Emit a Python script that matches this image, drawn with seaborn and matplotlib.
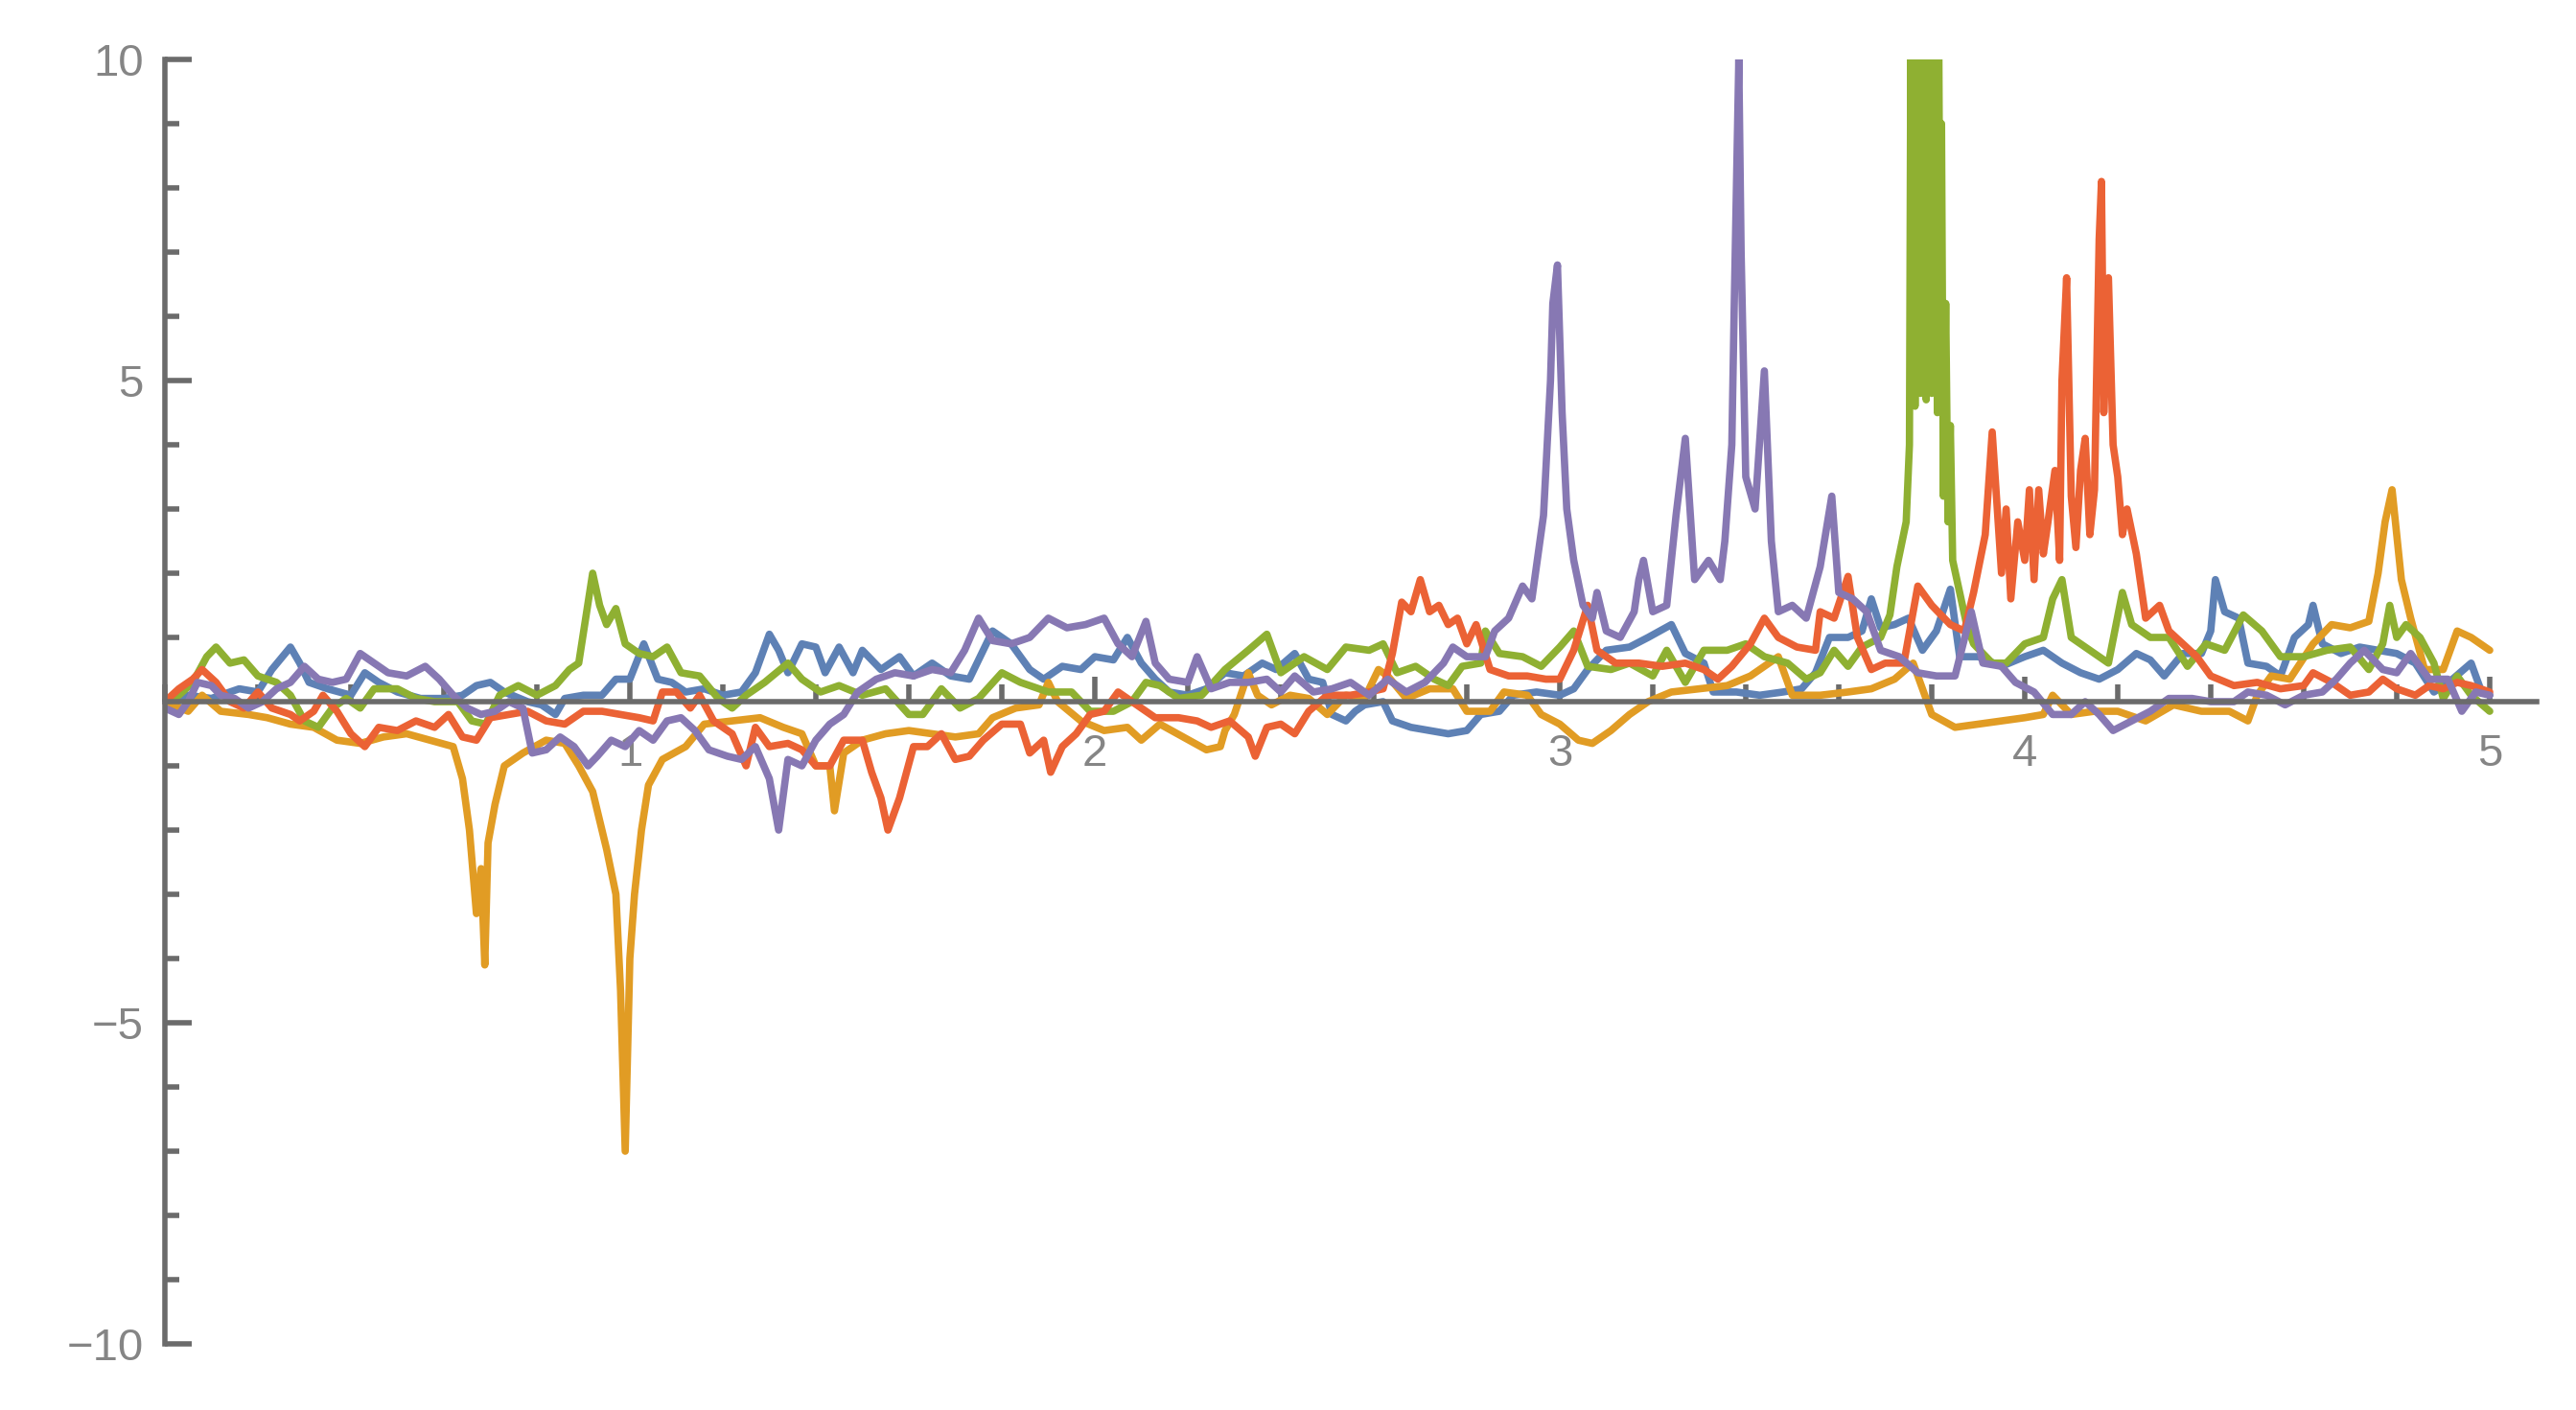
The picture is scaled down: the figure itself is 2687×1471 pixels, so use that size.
import numpy as np
import pandas as pd
import matplotlib
matplotlib.use("Agg")
import matplotlib.pyplot as plt
from matplotlib.ticker import MultipleLocator, FixedLocator
import seaborn as sns

# ---------------- data ----------------
blue_x = [0.00,0.05,0.10,0.16,0.20,0.23,0.27,0.29,0.31,0.35,0.40,0.43,0.46,0.50,0.55,0.60,0.64,0.67,0.70,0.73,
          0.78,0.81,0.84,0.86,0.90,0.94,0.97,1.00,1.03,1.06,1.09,1.12,1.16,1.20,1.24,1.27,1.30,1.32,1.34,1.37,
          1.40,1.42,1.45,1.48,1.50,1.54,1.58,1.61,1.65,1.69,1.73,1.76,1.78,1.82,1.86,1.89,1.93,1.97,2.00,2.04,
          2.07,2.10,2.13,2.16,2.20,2.24,2.28,2.32,2.36,2.39,2.43,2.46,2.49,2.51,2.54,2.56,2.58,2.62,2.64,2.68,
          2.72,2.76,2.80,2.83,2.87,2.90,2.95,3.00,3.03,3.06,3.10,3.15,3.19,3.24,3.27,3.31,3.33,3.38,3.43,3.48,
          3.52,3.55,3.58,3.62,3.65,3.67,3.69,3.72,3.75,3.78,3.81,3.84,3.86,3.90,3.95,4.00,4.04,4.08,4.12,4.16,
          4.20,4.24,4.27,4.30,4.34,4.38,4.40,4.41,4.43,4.46,4.48,4.52,4.55,4.58,4.61,4.62,4.64,4.68,4.72,4.76,
          4.80,4.84,4.88,4.92,4.96,4.98,5.00]
blue_y = [0.0,0.1,0.05,0.2,0.15,0.5,0.85,0.6,0.3,0.2,0.1,0.45,0.3,0.15,0.05,0.05,0.1,0.25,0.3,0.15,
          0.0,-0.05,-0.2,0.05,0.1,0.1,0.35,0.35,0.9,0.35,0.3,0.15,0.2,0.1,0.15,0.45,1.05,0.8,0.45,0.9,
          0.85,0.45,0.85,0.45,0.8,0.5,0.7,0.4,0.6,0.4,0.35,0.8,1.1,0.9,0.5,0.35,0.55,0.5,0.7,0.65,
          1.0,0.6,0.35,0.15,0.1,0.2,0.45,0.4,0.6,0.5,0.75,0.35,0.3,-0.2,-0.3,-0.15,-0.05,0.0,-0.3,-0.4,
          -0.45,-0.5,-0.45,-0.2,-0.15,0.1,0.15,0.1,0.2,0.5,0.8,0.85,1.0,1.2,0.75,0.6,0.15,0.15,0.1,0.15,
          0.2,0.45,1.0,1.0,1.1,1.6,1.15,1.2,1.3,0.8,1.1,1.75,0.7,0.7,0.55,0.7,0.8,0.6,0.45,0.35,
          0.5,0.75,0.65,0.4,0.75,0.75,1.1,1.9,1.4,1.3,0.6,0.55,0.4,1.0,1.2,1.5,0.9,0.75,0.85,0.8,
          0.75,0.6,0.15,0.35,0.6,0.2,0.1]

orange_x = [0.00,0.05,0.08,0.12,0.18,0.22,0.27,0.32,0.37,0.42,0.47,0.52,0.57,0.62,0.64,0.655,0.67,0.68,0.688,0.695,
            0.71,0.73,0.77,0.82,0.86,0.89,0.92,0.95,0.97,0.98,0.99,1.00,1.01,1.025,1.04,1.07,1.12,1.16,1.22,1.28,
            1.33,1.37,1.40,1.43,1.44,1.46,1.50,1.55,1.60,1.65,1.70,1.75,1.78,1.83,1.88,1.90,1.92,1.97,2.02,2.07,
            2.10,2.14,2.19,2.24,2.27,2.28,2.30,2.33,2.35,2.38,2.42,2.46,2.50,2.54,2.58,2.61,2.63,2.67,2.72,2.77,
            2.80,2.85,2.88,2.93,2.96,3.00,3.04,3.07,3.11,3.15,3.19,3.24,3.30,3.36,3.41,3.47,3.50,3.56,3.62,3.67,
            3.72,3.76,3.78,3.80,3.85,3.90,3.95,4.00,4.04,4.06,4.10,4.15,4.20,4.26,4.32,4.38,4.44,4.48,4.50,4.53,
            4.57,4.62,4.66,4.70,4.74,4.76,4.775,4.79,4.81,4.83,4.86,4.90,4.93,4.96,5.00]
orange_y = [0.0,-0.15,0.1,-0.15,-0.2,-0.25,-0.35,-0.4,-0.6,-0.65,-0.55,-0.5,-0.6,-0.7,-1.2,-2.0,-3.3,-2.6,-4.1,-2.2,
            -1.6,-1.0,-0.8,-0.6,-0.65,-1.0,-1.4,-2.3,-3.0,-4.5,-7.0,-4.0,-3.0,-2.0,-1.3,-0.9,-0.7,-0.35,-0.3,-0.25,
            -0.4,-0.5,-1.0,-1.0,-1.7,-0.8,-0.6,-0.5,-0.45,-0.5,-0.55,-0.5,-0.25,-0.1,-0.05,0.3,0.0,-0.3,-0.45,-0.4,
            -0.6,-0.35,-0.55,-0.75,-0.7,-0.45,-0.2,0.45,0.1,-0.05,0.1,0.05,-0.2,0.1,0.05,0.5,0.4,0.05,0.2,0.2,
            -0.15,-0.15,0.15,0.1,-0.2,-0.35,-0.6,-0.65,-0.45,-0.2,0.0,0.15,0.2,0.25,0.4,0.7,0.1,0.1,0.15,0.2,
            0.35,0.6,0.2,-0.2,-0.4,-0.35,-0.3,-0.25,-0.2,0.1,-0.2,-0.15,-0.15,-0.3,-0.05,-0.15,-0.15,-0.3,0.1,0.4,
            0.35,0.9,1.2,1.15,1.25,2.0,2.8,3.3,1.9,1.3,0.5,0.5,1.1,1.0,0.8]

green_x = [0.00,0.03,0.06,0.09,0.11,0.14,0.17,0.20,0.24,0.27,0.30,0.33,0.36,0.39,0.42,0.45,0.50,0.54,0.58,0.63,
           0.66,0.69,0.72,0.76,0.80,0.84,0.87,0.89,0.905,0.92,0.935,0.95,0.97,0.99,1.02,1.05,1.08,1.11,1.15,1.19,
           1.22,1.25,1.29,1.34,1.37,1.41,1.45,1.50,1.55,1.60,1.63,1.67,1.71,1.75,1.80,1.84,1.90,1.95,1.99,2.04,
           2.08,2.11,2.14,2.18,2.23,2.28,2.33,2.37,2.40,2.45,2.50,2.54,2.59,2.62,2.65,2.69,2.73,2.76,2.79,2.83,
           2.84,2.87,2.92,2.96,3.00,3.03,3.06,3.11,3.15,3.20,3.23,3.27,3.31,3.36,3.40,3.44,3.49,3.53,3.56,3.59,
           3.62,3.65,3.69,3.71,3.725,3.745,3.752,3.755,3.758,3.761,3.764,3.767,3.770,3.773,3.776,3.779,3.782,3.785,3.788,3.791,
           3.794,3.797,3.800,3.803,3.806,3.809,3.812,3.815,3.818,3.821,3.825,3.83,3.835,3.84,3.845,3.86,
           3.875,3.89,3.93,3.96,4.00,4.04,4.06,4.08,4.10,4.14,4.18,4.21,4.23,4.27,4.31,4.35,4.39,4.43,4.47,4.51,
           4.55,4.60,4.65,4.70,4.74,4.77,4.785,4.80,4.82,4.85,4.88,4.90,4.93,4.96,5.00]
green_y = [0.0,0.1,0.3,0.7,0.85,0.6,0.65,0.4,0.3,0.1,-0.3,-0.4,-0.1,0.05,-0.1,0.2,0.2,0.05,0.0,0.0,
           -0.3,-0.35,0.1,0.25,0.1,0.25,0.5,0.6,1.3,2.0,1.5,1.2,1.45,0.9,0.75,0.7,0.85,0.45,0.4,0.05,
           -0.1,0.1,0.3,0.6,0.35,0.15,0.25,0.1,0.2,-0.2,-0.2,0.2,-0.1,0.05,0.45,0.3,0.15,0.15,-0.15,-0.15,
           0.0,0.3,0.25,0.05,0.1,0.5,0.8,1.05,0.45,0.7,0.5,0.85,0.8,0.9,0.45,0.55,0.35,0.25,0.55,0.6,
           1.1,0.75,0.7,0.55,0.85,1.1,0.55,0.5,0.6,0.4,0.8,0.3,0.8,0.8,0.9,0.7,0.6,0.35,0.45,0.8,
           0.55,0.85,1.0,1.35,2.1,2.8,4.0,10.5,5.0,10.5,4.6,10.5,6.0,10.5,4.8,10.5,5.5,10.5,4.7,10.5,
           6.0,10.5,4.8,10.5,5.2,10.5,4.5,10.5,6.0,9.0,3.2,6.2,2.8,4.3,2.2,1.7,
           1.2,0.9,0.6,0.6,0.9,1.0,1.6,1.9,1.0,0.8,0.6,1.7,1.2,1.0,1.0,0.55,0.9,0.8,1.35,1.1,
           0.7,0.7,0.8,0.85,0.5,0.9,1.5,1.0,1.2,1.0,0.6,0.05,0.4,0.1,-0.15]

red_x = [0.00,0.03,0.06,0.08,0.11,0.14,0.17,0.20,0.23,0.27,0.29,0.32,0.34,0.37,0.40,0.43,0.46,0.50,0.54,0.58,
         0.61,0.64,0.67,0.70,0.74,0.78,0.82,0.86,0.90,0.94,0.98,1.02,1.05,1.07,1.10,1.13,1.15,1.18,1.22,1.25,
         1.27,1.30,1.34,1.37,1.40,1.43,1.46,1.50,1.52,1.54,1.555,1.58,1.61,1.64,1.67,1.70,1.73,1.76,1.80,1.84,
         1.86,1.89,1.905,1.93,1.96,1.99,2.02,2.05,2.08,2.10,2.13,2.18,2.22,2.25,2.29,2.33,2.345,2.37,2.40,2.43,
         2.46,2.50,2.55,2.59,2.62,2.64,2.66,2.68,2.70,2.72,2.74,2.76,2.78,2.80,2.82,2.85,2.89,2.93,2.97,3.00,
         3.03,3.06,3.08,3.12,3.17,3.22,3.27,3.31,3.34,3.37,3.41,3.44,3.47,3.51,3.55,3.56,3.59,3.62,3.64,3.67,
         3.70,3.74,3.77,3.80,3.84,3.87,3.89,3.915,3.93,3.95,3.96,3.97,3.985,4.00,4.01,4.02,4.03,4.04,4.05,4.065,
         4.075,4.08,4.09,4.10,4.11,4.12,4.13,4.14,4.15,4.16,4.165,4.17,4.18,4.19,4.20,4.21,4.22,4.24,4.26,4.29,
         4.31,4.34,4.37,4.40,4.45,4.50,4.55,4.60,4.62,4.66,4.70,4.74,4.77,4.80,4.84,4.87,4.90,4.93,4.96,5.00]
red_y = [0.0,0.2,0.35,0.5,0.3,0.0,-0.1,0.15,-0.1,-0.2,-0.3,-0.15,0.1,-0.15,-0.5,-0.7,-0.4,-0.45,-0.3,-0.4,
         -0.2,-0.55,-0.6,-0.25,-0.2,-0.15,-0.3,-0.35,-0.15,-0.15,-0.2,-0.25,-0.3,0.15,0.15,-0.1,0.1,-0.3,-0.5,-1.0,
         -0.4,-0.7,-0.65,-0.75,-1.0,-1.0,-0.6,-0.6,-1.1,-1.5,-2.0,-1.5,-0.7,-0.7,-0.5,-0.9,-0.85,-0.6,-0.35,-0.35,
         -0.8,-0.6,-1.1,-0.7,-0.5,-0.2,-0.15,0.15,0.0,-0.1,-0.25,-0.25,-0.3,-0.4,-0.3,-0.55,-0.85,-0.4,-0.35,-0.5,
         -0.15,0.1,0.1,0.15,0.2,0.75,1.55,1.4,1.9,1.4,1.5,1.2,1.3,0.9,1.2,0.5,0.4,0.4,0.35,0.35,
         0.8,1.5,0.8,0.6,0.6,0.55,0.6,0.5,0.35,0.55,0.9,1.3,1.0,0.85,0.8,1.4,1.3,1.95,1.0,0.5,
         0.6,0.6,1.8,1.5,1.2,1.1,1.7,2.6,4.2,2.0,3.0,1.6,2.8,2.2,3.3,1.9,3.3,2.3,2.8,3.6,
         2.2,5.0,6.6,3.2,2.4,3.6,4.1,2.6,3.3,7.2,8.1,4.5,6.6,4.0,3.5,2.6,3.0,2.3,1.3,1.5,
         1.1,0.9,0.7,0.4,0.25,0.3,0.2,0.25,0.45,0.3,0.1,0.15,0.35,0.2,0.1,0.25,0.2,0.3,0.25,0.15]

purple_x = [0.00,0.03,0.05,0.07,0.10,0.12,0.15,0.18,0.21,0.24,0.27,0.30,0.33,0.36,0.39,0.42,0.45,0.48,0.52,0.56,
            0.59,0.62,0.65,0.68,0.71,0.74,0.77,0.79,0.82,0.85,0.88,0.91,0.93,0.96,0.99,1.02,1.05,1.08,1.11,1.14,
            1.17,1.21,1.24,1.27,1.30,1.32,1.34,1.37,1.40,1.43,1.46,1.49,1.53,1.57,1.61,1.65,1.69,1.72,1.75,1.78,
            1.82,1.86,1.90,1.94,1.98,2.02,2.05,2.08,2.11,2.13,2.16,2.20,2.22,2.25,2.29,2.33,2.37,2.40,2.43,2.47,
            2.51,2.55,2.59,2.63,2.67,2.71,2.75,2.77,2.80,2.84,2.86,2.89,2.92,2.94,2.965,2.98,2.985,2.995,3.005,3.015,
            3.03,3.05,3.07,3.08,3.10,3.13,3.16,3.17,3.18,3.20,3.23,3.25,3.27,3.29,3.32,3.345,3.355,3.37,3.375,3.385,
            3.39,3.40,3.42,3.44,3.455,3.47,3.50,3.53,3.56,3.585,3.60,3.63,3.66,3.69,3.73,3.77,3.81,3.85,3.885,3.91,
            3.95,3.98,4.02,4.06,4.10,4.13,4.16,4.19,4.23,4.27,4.31,4.36,4.40,4.45,4.48,4.52,4.56,4.60,4.64,4.67,
            4.70,4.73,4.77,4.80,4.83,4.87,4.91,4.94,4.97,5.00]
purple_y = [-0.1,-0.2,0.0,0.3,0.25,0.1,0.05,-0.1,0.0,0.2,0.3,0.55,0.35,0.3,0.35,0.75,0.6,0.45,0.4,0.55,
            0.35,0.1,-0.1,-0.2,-0.15,0.0,-0.1,-0.8,-0.75,-0.55,-0.7,-1.0,-0.85,-0.6,-0.7,-0.45,-0.6,-0.3,-0.25,-0.45,
            -0.75,-0.85,-0.9,-0.7,-1.2,-2.0,-0.9,-1.0,-0.6,-0.35,-0.2,0.15,0.35,0.45,0.4,0.5,0.45,0.8,1.3,0.95,
            0.9,1.0,1.3,1.15,1.2,1.3,0.9,0.7,1.25,0.6,0.35,0.3,0.7,0.2,0.3,0.3,0.35,0.15,0.4,0.15,
            0.2,0.3,0.1,0.35,0.15,0.3,0.6,0.85,0.7,0.7,1.1,1.3,1.8,1.6,2.9,5.0,6.2,6.8,4.5,3.0,
            2.2,1.5,1.3,1.7,1.1,1.0,1.4,1.9,2.2,1.4,1.5,2.9,4.1,1.9,2.2,1.9,2.5,4.0,6.1,10.0,
            7.0,3.5,3.0,5.15,2.5,1.4,1.5,1.3,2.1,3.2,1.7,1.6,1.4,0.8,0.7,0.45,0.4,0.4,1.4,0.6,
            0.55,0.3,0.15,-0.2,-0.2,0.0,-0.2,-0.45,-0.3,-0.15,0.05,0.05,0.0,0.0,0.15,0.1,-0.05,0.1,0.15,0.35,
            0.6,0.8,0.5,0.45,0.75,0.35,0.35,-0.15,0.15,0.1]

series_names = ["s1", "s2", "s3", "s4", "s5"]
series_colors = ["#5e81b5", "#e19c24", "#8fb032", "#eb6235", "#8778b3"]

xticks_major = [1, 2, 3, 4, 5]
yticks_major = [-10, -5, 5, 10]

# ---------------- build long table ----------------
frames = []
for name, xs, ys in zip(series_names,
                        [blue_x, orange_x, green_x, red_x, purple_x],
                        [blue_y, orange_y, green_y, red_y, purple_y]):
    frames.append(pd.DataFrame({"x": xs, "y": ys, "series": name}))
df = pd.concat(frames, ignore_index=True)

# ---------------- figure ----------------
sns.set_style("white")
plt.rcParams["font.family"] = ["Liberation Sans", "DejaVu Sans"]

W, H = 2687, 1471
fig = plt.figure(figsize=(W / 100, H / 100), dpi=100)
ax = fig.add_axes([172 / W, 1 - 1402 / H, (5.1 * 485) / W, 1340 / H])

sns.lineplot(data=df, x="x", y="y", hue="series", hue_order=series_names,
             palette=dict(zip(series_names, series_colors)),
             estimator=None, sort=False, linewidth=5.5, legend=False, ax=ax)

ax.set_xlim(0, 5.1)
ax.set_ylim(-10, 10)
ax.set_xlabel("")
ax.set_ylabel("")

axis_color = "#6b6b6b"
for s in ["top", "right"]:
    ax.spines[s].set_visible(False)
ax.spines["left"].set_position(("data", 0))
ax.spines["bottom"].set_position(("data", 0))
for s in ["left", "bottom"]:
    ax.spines[s].set_color(axis_color)
    ax.spines[s].set_linewidth(4)
    ax.spines[s].set_zorder(5)

ax.xaxis.set_major_locator(FixedLocator(xticks_major))
ax.xaxis.set_minor_locator(MultipleLocator(0.2))
ax.yaxis.set_major_locator(FixedLocator(yticks_major))
ax.yaxis.set_minor_locator(MultipleLocator(1))

ax.tick_params(axis="both", which="both", direction="in", color=axis_color,
               labelcolor="#858585", labelsize=34, bottom=True, left=True,
               top=False, right=False)
ax.tick_params(axis="x", which="major", length=19, width=4, pad=24)
ax.tick_params(axis="x", which="minor", length=13, width=4)
ax.tick_params(axis="y", which="major", length=20, width=4, pad=16)
ax.tick_params(axis="y", which="minor", length=11, width=4)
ax.set_xticklabels([str(v) for v in xticks_major])
ax.set_yticklabels(["\u221210", "\u22125", "5", "10"])
for t in ax.xaxis.get_ticklines(minor=True) + ax.xaxis.get_ticklines() + \
         ax.yaxis.get_ticklines(minor=True) + ax.yaxis.get_ticklines():
    t.set_zorder(6)

fig.savefig("out.png", dpi=100, facecolor="white")
